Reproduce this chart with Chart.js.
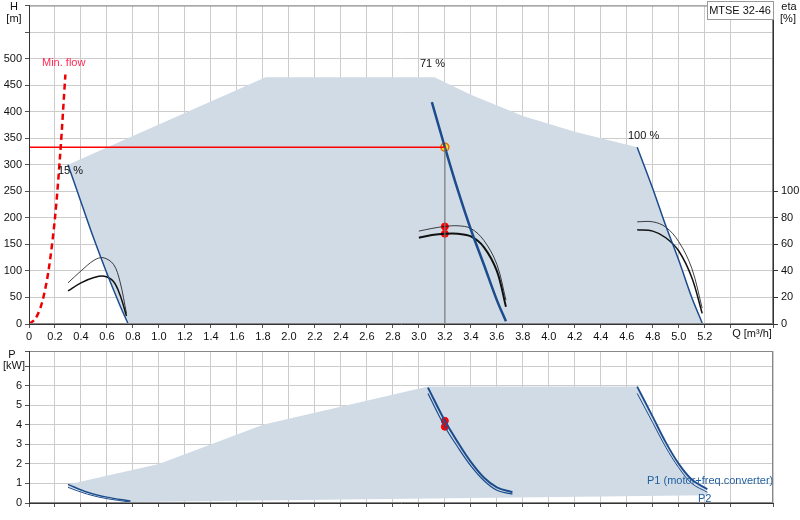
<!DOCTYPE html>
<html><head><meta charset="utf-8">
<script src="https://cdn.jsdelivr.net/npm/chart.js@4/dist/chart.umd.min.js"></script>
<style>body{margin:0;background:#fff;width:800px;height:520px;position:relative;overflow:hidden}
canvas{position:absolute;left:0}</style></head><body>
<canvas id="c1" style="top:0" width="800" height="345"></canvas>
<canvas id="c2" style="top:345px" width="800" height="175"></canvas>
<script>
// ---- data ----
const shadeTop = [[0.3,300],[1.82,465],[3.12,465],[3.4,432],[3.8,392],[4.2,362],[4.68,333],[4.8,255],[4.9,185],[5.0,120],[5.1,50],[5.18,2],[0.76,0],[0.7,35],[0.6,95],[0.5,160],[0.4,230],[0.3,300]];
const curve15 = [[0.3,300],[0.4,230],[0.5,160],[0.6,95],[0.7,35],[0.76,2]];
const curve71 = [[3.1,418],[3.2,333],[3.3,252],[3.4,178],[3.5,112],[3.6,45],[3.67,5]];
const curve100 = [[4.68,333],[4.8,255],[4.9,185],[5.0,120],[5.1,50],[5.18,2]];
const minFlow = [[0,0],[0.05,10],[0.1,40],[0.15,100],[0.2,200],[0.24,320],[0.28,470]];
const eta15a = [[0.3,31],[0.4,40],[0.5,48],[0.57,50],[0.65,45],[0.7,32],[0.75,8]];
const eta15b = [[0.3,25],[0.4,31],[0.5,35],[0.58,36],[0.65,32],[0.7,22],[0.75,6]];
const eta71a = [[3.0,70],[3.1,72],[3.2,73.5],[3.3,74],[3.4,72],[3.5,63],[3.6,45],[3.67,18]];
const eta71b = [[3.0,65],[3.1,67],[3.2,68],[3.3,68],[3.4,66],[3.5,58],[3.6,40],[3.67,13]];
const eta100a = [[4.68,77],[4.8,77],[4.9,73],[5.0,62],[5.1,42],[5.18,12]];
const eta100b = [[4.68,71],[4.8,70],[4.9,65],[5.0,55],[5.1,35],[5.18,8]];
const dutyQ = 3.2, dutyH = 333, dutyEta = [73.5, 68], dutyP = [4.2, 3.9];
const pShade = [[0.3,0.95],[1.0,2.0],[1.8,4.0],[3.07,5.95],[4.68,5.95],[4.8,4.4],[4.9,3.1],[5.0,2.0],[5.1,1.2],[5.22,0.6],[5.22,0.4],[0.78,0.05],[0.3,0.8]];
const p15a = [[0.3,0.95],[0.45,0.55],[0.6,0.3],[0.78,0.1]];
const p15b = [[0.3,0.8],[0.45,0.45],[0.6,0.22],[0.78,0.05]];
const p71a = [[3.07,5.9],[3.2,4.2],[3.3,3.1],[3.4,2.1],[3.5,1.3],[3.6,0.8],[3.72,0.55]];
const p71b = [[3.07,5.6],[3.2,3.9],[3.3,2.85],[3.4,1.9],[3.5,1.15],[3.6,0.65],[3.72,0.45]];
const p100a = [[4.68,5.95],[4.8,4.4],[4.9,3.1],[5.0,2.0],[5.1,1.2],[5.22,0.7]];
const p100b = [[4.68,5.6],[4.8,4.1],[4.9,2.85],[5.0,1.8],[5.1,1.0],[5.22,0.55]];
const qMax = 5.725, hMax = 600, etaMax = 240, pMax = 7.77;

const F = '"Liberation Sans", Arial, sans-serif';
const BLUE = '#1c4c8c', SHADE = '#d0dbe6', GRID = '#cccccc';
const pts = a => a.map(p => ({x:p[0], y:p[1]}));
function line(a, color, w, axis, extra){return Object.assign({data:pts(a), showLine:true, borderColor:color, backgroundColor:color, borderWidth:w, pointRadius:0, fill:false, tension:0.35, yAxisID:axis||'y'}, extra||{});}

function polyPlugin(poly, axis){return {id:'poly'+axis, beforeDatasetsDraw(ch){
  const c=ch.ctx, xs=ch.scales.x, ys=ch.scales[axis]; c.save();
  c.beginPath(); poly.forEach((p,i)=>{const X=xs.getPixelForValue(p[0]),Y=ys.getPixelForValue(p[1]); i?c.lineTo(X,Y):c.moveTo(X,Y);});
  c.closePath(); c.fillStyle=SHADE; c.fill(); c.restore();}};}

function frame(ch){const a=ch.chartArea,c=ch.ctx;c.save();c.strokeStyle='#888';c.lineWidth=1;c.strokeRect(a.left+0.5,a.top+0.5,a.right-a.left-1,a.bottom-a.top-1);c.beginPath();c.strokeStyle='#333';c.moveTo(a.left+0.5,a.top);c.lineTo(a.left+0.5,a.bottom);c.stroke();c.restore();}

const textPlugin1 = {id:'t1', afterDraw(ch){
  const c=ch.ctx; frame(ch); c.save();
  c.font='11px '+F; c.textBaseline='middle';
  c.fillStyle='#ff2a55'; c.textAlign='left'; c.fillText('Min. flow', 42, 63);
  c.fillStyle='#111';
  c.fillText('15 %', 58, 171); c.fillText('71 %', 420, 64); c.fillText('100 %', 628, 136);
  c.textAlign='center'; c.fillText('H',14,7); c.fillText('[m]',14,19);
  c.fillText('eta',789,7); c.fillText('[%]',788,19);
  c.fillText('Q [m³/h]', 752, 334);
  c.fillStyle='#fff'; c.fillRect(707,1,67,19); c.strokeStyle='#999'; c.strokeRect(707.5,1.5,66,18);
  c.fillStyle='#111'; c.fillText('MTSE 32-46', 740, 11);
  c.restore();}};
const textPlugin2 = {id:'t2', afterDraw(ch){
  const c=ch.ctx; frame(ch); c.save(); c.font='11px '+F; c.textBaseline='middle'; c.textAlign='center';
  c.fillStyle='#111'; c.fillText('P',12,10); c.fillText('[kW]',14,21);
  c.fillStyle='#1f5f9f'; c.textAlign='left'; c.fillText('P1 (motor+freq.converter)', 647, 136); c.fillText('P2', 698, 154);
  c.restore();}};

const tickFont = {family:F, size:11};
const fitY = w => s => { s.width = w; s.paddingTop = 0; s.paddingBottom = 0; };
new Chart(document.getElementById('c1'), {
  type:'scatter',
  data:{datasets:[
    line(minFlow,'#ee0000',2.5,'y',{borderDash:[6,4],tension:0.3}),
    line([[0,dutyH],[dutyQ,dutyH]],'#ff0000',1.5,'y',{tension:0}),
    line([[dutyQ,0],[dutyQ,dutyH]],'#777777',1.2,'y',{tension:0}),
    line(curve15,BLUE,1.5), line(curve71,BLUE,2.5), line(curve100,BLUE,1.5),
    line(eta15a,'#111',0.8,'eta'), line(eta15b,'#111',1.5,'eta'),
    line(eta71a,'#111',0.8,'eta'), line(eta71b,'#111',2,'eta'),
    line(eta100a,'#111',0.8,'eta'), line(eta100b,'#111',1.5,'eta'),
    {data:dutyEta.map(v=>({x:dutyQ,y:v})), yAxisID:'eta', pointRadius:3.5, backgroundColor:'#ff0000', borderColor:'#ff0000'},
    {data:[{x:dutyQ,y:dutyH}], yAxisID:'y', pointRadius:4, backgroundColor:'#ffdd33', borderColor:'#e07000', borderWidth:1.5}
  ]},
  options:{responsive:false, animation:false, layout:{padding:0},
    plugins:{legend:{display:false}, tooltip:{enabled:false}},
    scales:{
      x:{type:'linear', min:0, max:qMax, afterFit:s=>{s.height=21;},
        ticks:{stepSize:0.2, autoSkip:false, maxRotation:0, font:tickFont, color:'#111', padding:2,
          callback:v=> v<=5.2001 ? (Math.round(v*10)/10).toFixed(1).replace('0.0','0') : ''},
        grid:{color:GRID, tickLength:4, tickColor:'#555'}, border:{color:'#333'}},
      y:{min:0, max:hMax, afterFit:fitY(29),
        ticks:{stepSize:50, font:tickFont, color:'#111', padding:3, callback:v=> v<=500 ? v : ''},
        grid:{color:GRID, tickLength:4, tickColor:'#555'}, border:{color:'#333'}},
      eta:{position:'right', min:0, max:etaMax, afterFit:fitY(27),
        ticks:{stepSize:20, font:tickFont, color:'#111', padding:3, callback:v=> v<=100 ? v : null},
        grid:{drawOnChartArea:false, tickLength:5, tickColor:'#333'}, border:{color:'#333'}}
    }},
  plugins:[polyPlugin(shadeTop,'y'), textPlugin1]
});

new Chart(document.getElementById('c2'), {
  type:'scatter',
  data:{datasets:[
    line(p15a,BLUE,1.5,'y'), line(p15b,BLUE,1,'y'),
    line(p71a,BLUE,2,'y'), line(p71b,BLUE,1.2,'y'),
    line(p100a,BLUE,1.8,'y'), line(p100b,BLUE,1,'y'),
    {data:dutyP.map(v=>({x:dutyQ,y:v})), pointRadius:3.5, backgroundColor:'#ff0000', borderColor:'#ff0000'}
  ]},
  options:{responsive:false, animation:false, layout:{padding:{top:6,right:27}},
    plugins:{legend:{display:false}, tooltip:{enabled:false}},
    scales:{
      x:{type:'linear', min:0, max:qMax, afterFit:s=>{s.height=17;},
        ticks:{stepSize:0.2, autoSkip:false, maxRotation:0, callback:()=>''},
        grid:{color:GRID, tickLength:4, tickColor:'#555'}, border:{color:'#333'}},
      y:{min:0, max:pMax, afterFit:fitY(29),
        ticks:{stepSize:1, font:tickFont, color:'#111', padding:3, callback:v=> v<=6 ? v : ''},
        grid:{color:GRID, tickLength:4, tickColor:'#555'}, border:{color:'#333'}}
    }},
  plugins:[polyPlugin(pShade,'y'), textPlugin2]
});
</script></body></html>
